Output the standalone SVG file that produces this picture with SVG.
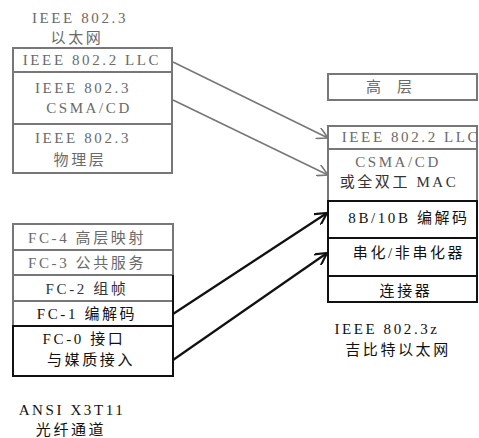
<svg xmlns="http://www.w3.org/2000/svg" width="479" height="438" viewBox="0 0 479 438">
<defs>
<style>
text{font-family:"Liberation Serif","Noto Sans CJK SC",serif;font-size:15px;text-anchor:middle;letter-spacing:2.6px}
.g{fill:#6a6a6a}
.k{fill:#111}
.bg{fill:none;stroke:#777;stroke-width:2}
.bk{fill:none;stroke:#111;stroke-width:2}
.cg{fill:none;stroke:#777;stroke-width:1.6}
.ck{fill:none;stroke:#111;stroke-width:2.2}
</style>
<marker id="ag" viewBox="0 0 12 12" refX="11" refY="6" markerWidth="12" markerHeight="12" markerUnits="userSpaceOnUse" orient="auto"><path d="M0,0 L11,6 L0,12" fill="none" stroke="#777" stroke-width="1.6"/></marker>
<marker id="ak" viewBox="0 0 12 12" refX="11" refY="6" markerWidth="13" markerHeight="13" markerUnits="userSpaceOnUse" orient="auto"><path d="M0,0 L11,6 L0,12" fill="none" stroke="#111" stroke-width="2"/></marker>
</defs>
<rect width="479" height="438" fill="#fff"/>

<g id="ethernet">
<text class="g" x="80" y="23">IEEE 802.3</text>
<text class="g" x="77" y="43">以太网</text>
<rect class="bg" x="13" y="48" width="159" height="125"/>
<line class="bg" x1="13" y1="72" x2="172" y2="72"/>
<line class="bg" x1="13" y1="124" x2="172" y2="124"/>
<text class="g" x="92" y="65">IEEE 802.2 LLC</text>
<text class="g" x="83" y="93">IEEE 802.3</text>
<text class="g" x="89" y="113">CSMA/CD</text>
<text class="g" x="83" y="143">IEEE 802.3</text>
<text class="g" x="80" y="165">物理层</text>
</g>

<g id="fibre">
<path class="bg" d="M13,326 V224 H173 V275"/>
<line class="bg" x1="13" y1="250" x2="173" y2="250"/>
<line class="bg" x1="13" y1="275" x2="173" y2="275"/>
<line class="bg" x1="13" y1="301" x2="173" y2="301"/>
<path class="bk" d="M173,275 V376 H13 V326 H173"/>
<text class="g" x="87" y="243">FC-4 高层映射</text>
<text class="g" x="87" y="268">FC-3 公共服务</text>
<text class="k" x="87" y="294" style="fill:#333">FC-2 组帧</text>
<text class="k" x="87" y="319">FC-1 编解码</text>
<text class="k" x="84" y="344">FC-0 接口</text>
<text class="k" x="91" y="365">与媒质接入</text>
<text class="k" x="72" y="415">ANSI X3T11</text>
<text class="k" x="71" y="435">光纤通道</text>
</g>

<g id="gigabit">
<rect class="bg" x="328" y="74" width="149" height="26"/>
<path class="bg" d="M328,201 V126 H477 V201"/>
<line class="bg" x1="328" y1="149" x2="477" y2="149"/>
<rect class="bk" x="328" y="201" width="149" height="101"/>
<line class="bk" x1="328" y1="238" x2="477" y2="238"/>
<line class="bk" x1="328" y1="276" x2="477" y2="276"/>
<text class="g" x="397" y="92" style="letter-spacing:16px">高层</text>
<text class="g" x="411" y="142">IEEE 802.2 LLC</text>
<text class="g" x="398" y="167">CSMA/CD</text>
<text class="k" x="399" y="187" style="fill:#333">或全双工 MAC</text>
<text class="k" x="409" y="223">8B/10B 编解码</text>
<text class="k" x="409" y="258">串化/非串化器</text>
<text class="k" x="406" y="296">连接器</text>
<text class="k" x="387" y="334">IEEE 802.3z</text>
<text class="k" x="398" y="355">吉比特以太网</text>
</g>

<g id="connectors">
<line class="cg" x1="173" y1="62" x2="328" y2="138" marker-end="url(#ag)"/>
<line class="cg" x1="173" y1="100" x2="328" y2="175" marker-end="url(#ag)"/>
<line class="ck" x1="173" y1="314" x2="327" y2="213" marker-end="url(#ak)"/>
<line class="ck" x1="173" y1="360" x2="327" y2="253" marker-end="url(#ak)"/>
</g>
</svg>
